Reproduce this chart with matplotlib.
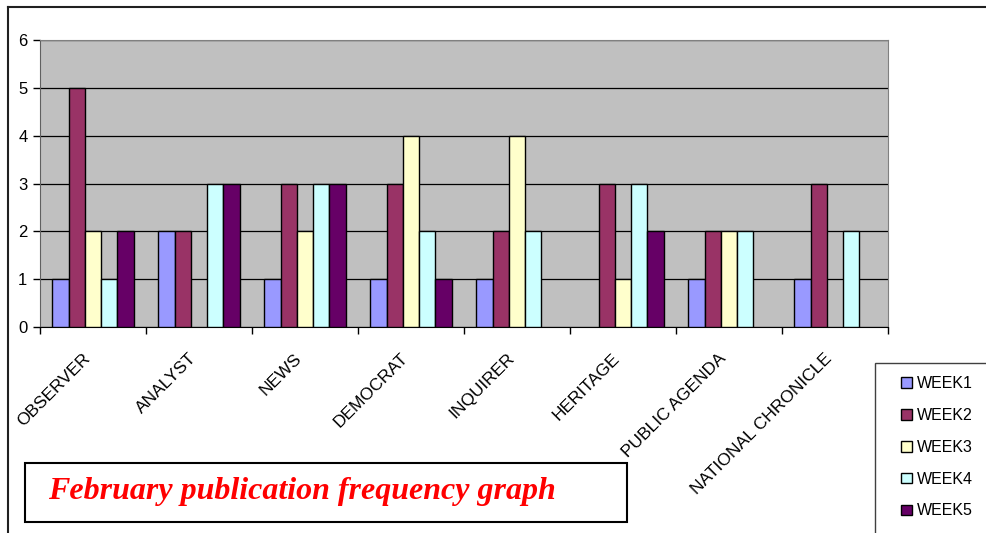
import matplotlib.pyplot as plt
from matplotlib.patches import Rectangle
import numpy as np

# publications and weekly counts
papers = ["OBSERVER", "ANALYST", "NEWS", "DEMOCRAT", "INQUIRER",
          "HERITAGE", "PUBLIC AGENDA", "NATIONAL CHRONICLE"]
week1 = [1, 2, 1, 1, 1, 0, 1, 1]
week2 = [5, 2, 3, 3, 2, 3, 2, 3]
week3 = [2, 0, 2, 4, 4, 1, 2, 0]
week4 = [1, 3, 3, 2, 2, 3, 2, 2]
week5 = [2, 3, 3, 1, 0, 2, 0, 0]
weeks = ["WEEK1", "WEEK2", "WEEK3", "WEEK4", "WEEK5"]
colors = ["#9999FF", "#993366", "#FFFFCC", "#CCFFFF", "#660066"]

plt.rcParams["font.family"] = ["Liberation Sans", "DejaVu Sans"]

W, H = 987, 533
fig = plt.figure(figsize=(W / 100, H / 100), dpi=100)
ax = fig.add_axes([40 / W, 1 - 327 / H, 848 / W, 287 / H])
ax.set_facecolor("#C0C0C0")

x = np.arange(len(papers))
bw = 1 / 6.5
series = [week1, week2, week3, week4, week5]
for i, vals in enumerate(series):
    v = np.array(vals, dtype=float)
    v[v == 0] = np.nan  # zero counts are not drawn at all
    ax.bar(x + (i - 2) * bw, v, bw, color=colors[i], edgecolor="black",
           linewidth=1, label=weeks[i], zorder=3)

ax.set_xlim(-0.5, len(papers) - 0.5)
ax.set_ylim(0, 6)
ax.set_yticks(range(7))
ax.yaxis.grid(True, color="black", linewidth=0.9, zorder=1)
ax.set_axisbelow(True)

# tick marks on category boundaries, labels at centres
ax.set_xticks(np.arange(-0.5, len(papers)), labels=[""] * (len(papers) + 1))
ax.set_xticks(x, labels=papers, minor=True)
ax.tick_params(axis="x", which="major", length=5, width=1, color="black")
ax.tick_params(axis="x", which="minor", length=0, pad=17, labelsize=12.5)
for lab in ax.get_xticklabels(minor=True):
    lab.set_rotation(45)
    lab.set_ha("right")
    lab.set_va("top")
ax.tick_params(axis="y", length=5, width=1, labelsize=12, pad=4)

for s in ["top", "right"]:
    ax.spines[s].set_color("#808080")
ax.spines["left"].set_color("#606060")
ax.spines["bottom"].set_color("black")

# outer chart frame (cut off at right and bottom)
fig.add_artist(plt.Line2D([8 / W, 1], [1 - 7 / H] * 2, color="#202020", lw=1.5))
fig.add_artist(plt.Line2D([8 / W] * 2, [0, 1 - 7 / H], color="#202020", lw=1.5))

# legend box
fig.add_artist(Rectangle((875 / W, -0.02), 0.2, 0.02 + 1 - 363 / H,
                         transform=fig.transFigure, facecolor="white",
                         edgecolor="#404040", lw=1))
handles, labels = ax.get_legend_handles_labels()
fig.legend(handles, labels, loc="upper left",
           bbox_to_anchor=(895 / W, 1 - 370 / H), frameon=False,
           fontsize=11.5, handlelength=0.65, handleheight=0.65,
           handletextpad=0.3, labelspacing=1.05, borderaxespad=0)

# title box
fig.add_artist(Rectangle((25 / W, 1 - 522 / H), 602 / W, 59 / H,
                         transform=fig.transFigure, facecolor="white",
                         edgecolor="black", lw=1.5))
fig.text(48 / W, 1 - 492 / H, "February publication frequency graph",
         color="red", fontsize=23, fontweight="bold", fontstyle="italic",
         family="Liberation Serif", va="center", ha="left")

fig.savefig("out.png", dpi=100)
